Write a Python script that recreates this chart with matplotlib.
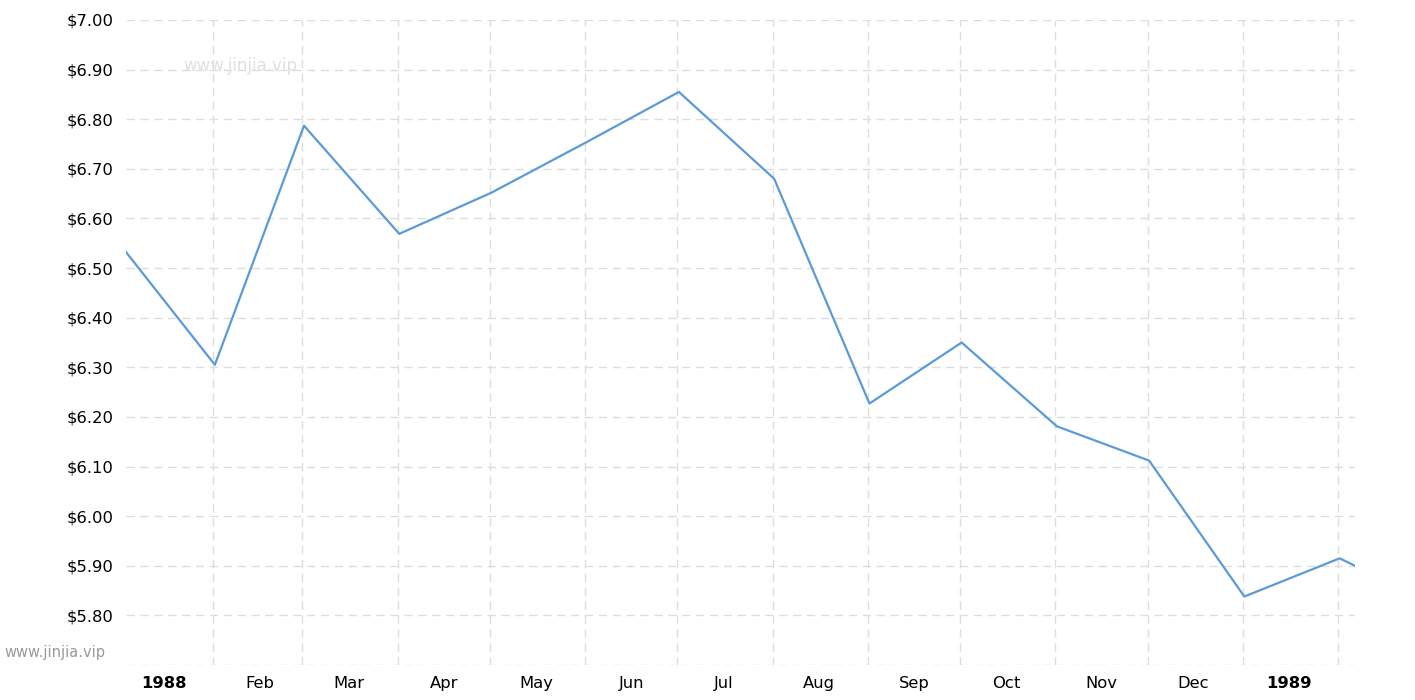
import matplotlib.pyplot as plt
import matplotlib.dates as mdates
from matplotlib.ticker import FixedLocator, FuncFormatter
import datetime as dt

# monthly price readings
dates = ['1988-01-03', '1988-02-01', '1988-03-01', '1988-04-01', '1988-05-01',
         '1988-06-01', '1988-07-01', '1988-08-01', '1988-09-01', '1988-10-01',
         '1988-11-01', '1988-12-01', '1989-01-01', '1989-02-01', '1989-02-06']
prices = [6.533, 6.305, 6.787, 6.569, 6.652, 6.754, 6.855, 6.680, 6.227,
          6.350, 6.181, 6.112, 5.838, 5.915, 5.900]

month_labels = ['1988', 'Feb', 'Mar', 'Apr', 'May', 'Jun', 'Jul', 'Aug',
                'Sep', 'Oct', 'Nov', 'Dec', '1989']
y_ticks = [5.8, 5.9, 6.0, 6.1, 6.2, 6.3, 6.4, 6.5, 6.6, 6.7, 6.8, 6.9, 7.0]

x = [dt.datetime.strptime(d, '%Y-%m-%d') + dt.timedelta(hours=12) for d in dates]

fig = plt.figure(figsize=(14.15, 7), dpi=100)
ax = fig.add_axes([126 / 1415, 35 / 700, (1355 - 126) / 1415, (665 - 20) / 700])

ax.plot(x, prices, color='#5b9bd5', lw=1.6, zorder=3, clip_on=True)

ax.set_xlim(dt.datetime(1988, 1, 3, 14), dt.datetime(1989, 2, 6, 12))
ax.set_ylim(5.7, 7.0)

# gridlines at month starts, labels at mid month
month_starts = [mdates.date2num(dt.datetime(1988 + (m // 12), m % 12 + 1, 1)) for m in range(1, 14)]
mid_months = [mdates.date2num(dt.datetime(1988 + (m // 12), m % 12 + 1, 16)) for m in range(0, 13)]
ax.xaxis.set_major_locator(FixedLocator(month_starts))
ax.xaxis.set_major_formatter(FuncFormatter(lambda v, p: ''))
ax.xaxis.set_minor_locator(FixedLocator(mid_months))
ax.xaxis.set_minor_formatter(FuncFormatter(lambda v, p: month_labels[p] if p < len(month_labels) else ''))

ax.set_yticks([5.7] + y_ticks)
ax.set_yticklabels([''] + ['$%.2f' % v for v in y_ticks])

ax.grid(True, which='major', color='#dddddd', lw=1, ls=(0, (6, 4)))
ax.tick_params(which='both', length=0)
ax.tick_params(axis='y', labelsize=11.8, pad=9)
ax.tick_params(axis='x', which='minor', labelsize=11.8, pad=8)
for s in ax.spines.values():
    s.set_visible(False)

ax.figure.canvas.draw()
for i, lbl in enumerate(ax.xaxis.get_minorticklabels()):
    if month_labels[i] in ('1988', '1989'):
        lbl.set_fontweight('bold')

fig.text(183 / 1415, 1 - 66 / 700, 'www.jinjia.vip', color='#e0e0e0', fontsize=12,
         va='center', ha='left')
fig.text(4 / 1415, 1 - 652 / 700, 'www.jinjia.vip', color='#999999', fontsize=10.5,
         va='center', ha='left')

fig.savefig('out.png', dpi=100)
